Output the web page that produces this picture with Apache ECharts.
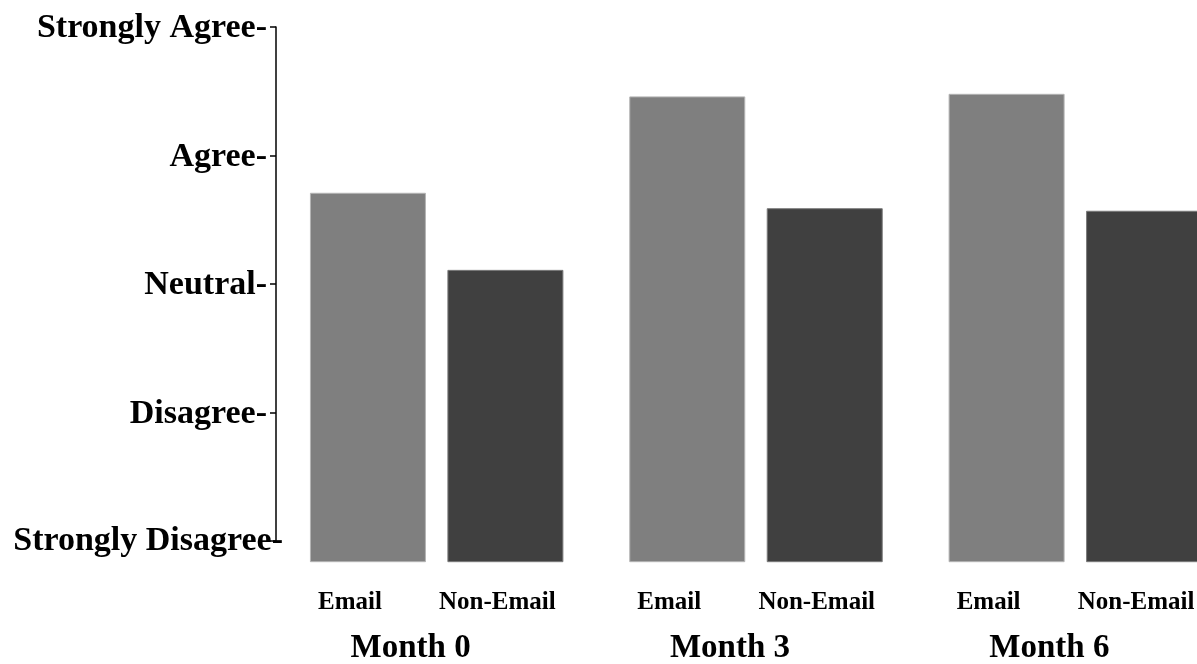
<!DOCTYPE html>
<html>
<head>
<meta charset="utf-8">
<script src="https://cdn.jsdelivr.net/npm/echarts@6/dist/echarts.min.js"></script>
<style>
  html, body { margin: 0; padding: 0; background: #fff; }
  #chart { width: 1197px; height: 664px; }
</style>
</head>
<body>
<div id="chart"></div>
<script>
const categories = ['Month 0', 'Month 3', 'Month 6'];
const groupNames = ['Email', 'Non-Email'];
const emailValues = [3.71, 4.46, 4.48];
const nonEmailValues = [3.11, 3.59, 3.57];
const yTickLabels = ['Strongly Disagree', 'Disagree', 'Neutral', 'Agree', 'Strongly Agree'];

const FONT = '"Liberation Serif", "Times New Roman", serif';
const chart = echarts.init(document.getElementById('chart'));

const labelBase = {
  show: true,
  position: 'bottom',
  formatter: '{a}',
  fontSize: 25,
  fontWeight: 'bold',
  fontFamily: FONT,
  color: '#000'
};

const option = {
  animation: false,
  backgroundColor: '#fff',
  grid: [
    { left: 277, top: 27, width: 958, height: 534.7, outerBoundsMode: 'none', containLabel: false },
    { left: 276, top: 27, width: 1, height: 514, outerBoundsMode: 'none', containLabel: false }
  ],
  xAxis: [
    {
      type: 'category', gridIndex: 0, data: categories,
      axisLine: { show: false }, axisTick: { show: false },
      axisLabel: {
        margin: 70, fontSize: 33, fontWeight: 'bold', fontFamily: FONT,
        color: '#000', padding: [0, 52, 0, 0]
      }
    },
    { type: 'category', gridIndex: 1, data: [''], show: false }
  ],
  yAxis: [
    { type: 'value', gridIndex: 0, min: 0.839, max: 5, show: false },
    {
      type: 'value', gridIndex: 1, min: 1, max: 5, interval: 1,
      axisLine: { show: true, lineStyle: { color: '#000', width: 1.5 } },
      axisTick: { show: true, length: 6, lineStyle: { color: '#000', width: 1.5 } },
      splitLine: { show: false },
      axisLabel: {
        margin: -7,
        formatter: function (v) {
          const i = Math.round(v) - 1;
          const t = yTickLabels[i] + '-';
          return i === 0 ? '{b|' + t + '}' : '{a|' + t + '}';
        },
        rich: {
          a: { fontSize: 34, fontWeight: 'bold', fontFamily: FONT, color: '#000', padding: [3, 16, 0, 0] },
          b: { fontSize: 34, fontWeight: 'bold', fontFamily: FONT, color: '#000', padding: [0, 0, 0, 0] }
        }
      }
    }
  ],
  series: [
    {
      type: 'bar', name: groupNames[0], data: emailValues,
      xAxisIndex: 0, yAxisIndex: 0,
      barWidth: 116, barGap: '18.5%',
      itemStyle: { color: '#7f7f7f', borderColor: '#b4b4b4', borderWidth: 1 },
      label: Object.assign({}, labelBase, { offset: [-18, 23] })
    },
    {
      type: 'bar', name: groupNames[1], data: nonEmailValues,
      xAxisIndex: 0, yAxisIndex: 0,
      barWidth: 116, barGap: '18.5%',
      itemStyle: { color: '#404040', borderColor: '#7a7a7a', borderWidth: 1 },
      label: Object.assign({}, labelBase, { offset: [-8, 23] })
    }
  ]
};
chart.setOption(option);
</script>
</body>
</html>
